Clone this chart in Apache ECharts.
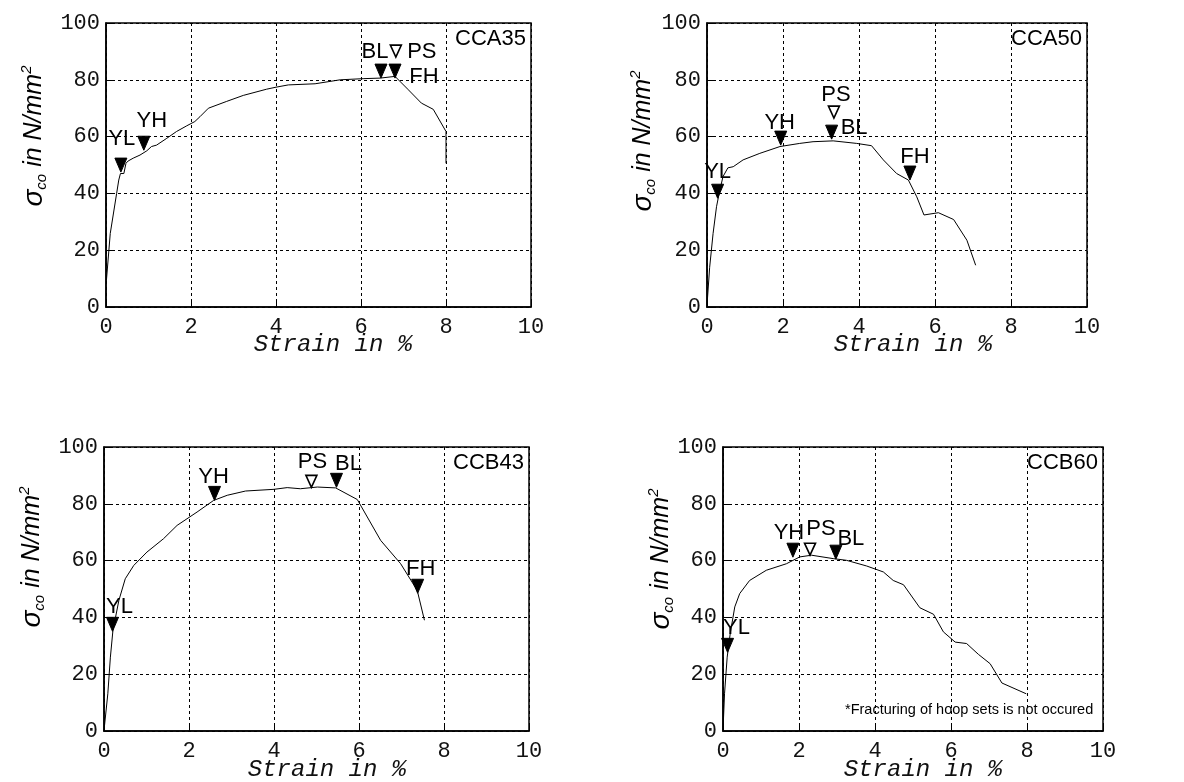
<!DOCTYPE html>
<html>
<head>
<meta charset="utf-8">
<script src="https://cdn.jsdelivr.net/npm/echarts@6/dist/echarts.min.js"></script>
<style>
html,body{margin:0;padding:0;background:#fff;}
#chart{width:1184px;height:782px;}
</style>
</head>
<body>
<div id="chart"></div>
<script>
// ---- data (strain %, stress N/mm2) ----
const panelNames = ['CCA35', 'CCA50', 'CCB43', 'CCB60'];
const xTicks = [0, 2, 4, 6, 8, 10];
const yTicks = [0, 20, 40, 60, 80, 100];

const cca35 = [[0.01,9.4],[0.1,25.9],[0.25,40],[0.3,44.7],[0.34,47],[0.42,47],[0.47,50.6],[0.52,51.4],[0.64,52.4],[0.8,53.5],[0.96,55],[1.07,56.5],[1.19,57],[1.43,59.4],[1.66,61.8],[1.9,63.8],[2.09,65.3],[2.21,67],[2.41,70],[2.84,72.4],[3.23,74.5],[3.78,76.7],[4.0,77.4],[4.29,78.2],[4.92,78.6],[5.51,80],[6.05,80.4],[6.45,80.6],[6.8,81.2],[7.1,76.7],[7.42,71.8],[7.7,69.6],[8.0,61.8],[8.0,50.6]];
const cca50 = [[0,0.6],[0.07,14],[0.16,25.9],[0.25,35.3],[0.32,40],[0.42,45.9],[0.55,49],[0.69,49.4],[0.95,51.8],[1.39,54.1],[1.92,56.5],[2.44,57.6],[2.79,58.2],[3.32,58.5],[3.94,57.6],[4.33,56.8],[4.64,51.8],[4.99,47],[5.3,44.7],[5.52,38.8],[5.71,32.4],[6.09,33.2],[6.49,30.8],[6.84,23.5],[7.07,14.7]];
const ccb43 = [[0,0.2],[0.09,13.1],[0.15,26],[0.21,35.4],[0.35,46],[0.5,53.6],[0.7,58.3],[1.01,63],[1.4,67.7],[1.72,72.4],[2.19,77.1],[2.58,81.2],[2.9,83],[3.33,84.5],[4.0,85.1],[4.31,85.7],[4.62,85.3],[5.02,85.9],[5.45,85.6],[5.96,81.5],[6.51,67.1],[6.98,58.9],[7.37,49.5],[7.54,39]];
const ccb60 = [[0,0.2],[0.04,13.1],[0.11,26],[0.19,34.3],[0.31,43.7],[0.44,48.4],[0.7,53],[1.14,56.6],[1.67,58.9],[2.02,61.3],[2.33,61.9],[2.9,60.7],[3.25,60.1],[3.78,58.1],[4.22,56],[4.48,53],[4.75,51.5],[5.18,43.4],[5.54,41.1],[5.8,34.9],[6.11,31.3],[6.41,30.8],[6.72,27],[7.03,23.7],[7.34,16.9],[7.98,13.1]];

// markers: [strain, stress, label, filled(1) / open(0)]
const m35 = [[0.35,47.5,'YL',1],[0.89,55.2,'YH',1],[6.47,80.6,'BL',1],[6.82,88.0,'PS',0],[6.8,80.6,'FH',1]];
const m50 = [[0.28,38.3,'YL',1],[1.94,57,'YH',1],[3.34,66.5,'PS',0],[3.28,59.1,'BL',1],[5.34,44.7,'FH',1]];
const m43 = [[0.2,35.1,'YL',1],[2.6,81.2,'YH',1],[4.88,85.8,'PS',0],[5.47,85.8,'BL',1],[7.38,48.5,'FH',1]];
const m60 = [[0.12,27.7,'YL',1],[1.84,61.2,'YH',1],[2.29,61.9,'PS',0],[2.97,60.5,'BL',1]];

const note60 = '*Fracturing of hoop sets is not occured';

// ---- layout / style (kept apart from data) ----
const labelOffsets = [
  [[1,-33.5],[8,-29],[-6,-26.5],[26,-5.5],[29,-1.5]],
  [[0,-26.5],[-1,-22],[2,-23],[22.5,-11.5],[5,-23.5]],
  [[7,-24.5],[-1,-23],[1,-25],[12,-23],[3,-24]],
  [[9,-24.5],[-4,-24.5],[11,-26.5],[15,-20]]
];
const grids = [
  {left:106, top:23, width:425, height:284},
  {left:707, top:23, width:380, height:284},
  {left:104, top:447, width:425, height:284},
  {left:723, top:447, width:380, height:284}
];
const xTitlePos = [[333,345],[913,345],[327,770],[923,770]];
const yTitlePos = [[34,136],[643,141],[32,557],[661,559]];

const curves = [cca35, cca50, ccb43, ccb60];
const markers = [m35, m50, m43, m60];

const chart = echarts.init(document.getElementById('chart'), null, {renderer:'canvas'});

const monoFont = 'Liberation Mono';
const sansFont = 'Liberation Sans';

const option = {
  backgroundColor: '#fff',
  animation: false,
  grid: grids.map(g => Object.assign({show:true, borderColor:'#000', borderWidth:1.5, backgroundColor:'transparent'}, g)),
  xAxis: grids.map((g,i) => ({
    gridIndex:i, type:'value', min:xTicks[0], max:xTicks[xTicks.length-1], interval:xTicks[1]-xTicks[0],
    axisLine:{show:true, lineStyle:{color:'#000', width:1.5}},
    axisTick:{show:true, inside:true, length:7, lineStyle:{color:'#000'}},
    axisLabel:{margin:9, color:'#111', fontFamily:monoFont, fontSize:22},
    splitLine:{show:true, lineStyle:{color:'#000', width:1, type:[3,3]}}
  })),
  yAxis: grids.map((g,i) => ({
    gridIndex:i, type:'value', min:yTicks[0], max:yTicks[yTicks.length-1], interval:yTicks[1]-yTicks[0],
    axisLine:{show:true, lineStyle:{color:'#000', width:1.5}},
    axisTick:{show:true, inside:true, length:7, lineStyle:{color:'#000'}},
    axisLabel:{margin:6, color:'#111', fontFamily:monoFont, fontSize:22},
    splitLine:{show:true, lineStyle:{color:'#000', width:1, type:[3,3]}}
  })),
  series: [],
  graphic: []
};

curves.forEach((c,i) => {
  option.series.push({
    type:'line', xAxisIndex:i, yAxisIndex:i, data:c, showSymbol:false, symbol:'none',
    lineStyle:{color:'#000', width:1}, z:3
  });
  const mk = markers[i];
  const offs = labelOffsets[i];
  option.series.push({
    type:'custom', xAxisIndex:i, yAxisIndex:i, z:5,
    data: mk.map(m => [m[0], m[1], m[3]]),
    encode:{x:0, y:1},
    renderItem: function(params, api){
      const p = api.coord([api.value(0), api.value(1)]);
      const k = params.dataIndex;
      const filled = mk[k][3] === 1;
      const w = filled ? 12 : 11, h = filled ? 14 : 12;
      const off = offs[k];
      return {
        type:'group',
        children:[
          {type:'polygon', shape:{points:[[p[0]-w/2,p[1]-h],[p[0]+w/2,p[1]-h],[p[0],p[1]]]},
           style:{fill: filled ? '#000' : '#fff', stroke:'#000', lineWidth: filled ? 1 : 1.6}},
          {type:'text', x:p[0]+off[0], y:p[1]+off[1],
           style:{text: mk[k][2], fill:'#000', font:'22px "Liberation Sans"', align:'center', verticalAlign:'middle'}}
        ]
      };
    }
  });

  const g = grids[i];
  option.graphic.push({
    type:'text', x:g.left+g.width-5, y:g.top+16, z:10,
    style:{text:panelNames[i], fill:'#000', font:'22px "Liberation Sans"', align:'right', verticalAlign:'middle'}
  });
  option.graphic.push({
    type:'text', x:xTitlePos[i][0], y:xTitlePos[i][1],
    style:{text:'Strain in %', fill:'#111', font:'italic 24px "Liberation Mono"', align:'center', verticalAlign:'middle'}
  });
  option.graphic.push({
    type:'text', x:yTitlePos[i][0], y:yTitlePos[i][1], rotation:Math.PI/2,
    style:{
      text:'{s|σ}{c|co}{t| in N/mm}{p|2}', align:'center', verticalAlign:'middle', fill:'#000',
      rich:{
        s:{fontFamily:sansFont, fontSize:28, fontStyle:'italic', lineHeight:30, fill:'#000'},
        c:{fontFamily:sansFont, fontSize:15, fontStyle:'italic', verticalAlign:'bottom', lineHeight:15, fill:'#000'},
        t:{fontFamily:sansFont, fontSize:25, fontStyle:'italic', lineHeight:30, fill:'#000'},
        p:{fontFamily:sansFont, fontSize:15, fontStyle:'italic', verticalAlign:'top', lineHeight:15, fill:'#000'}
      }
    }
  });
});

option.graphic.push({
  type:'text', x:845, y:710,
  style:{text:note60, fill:'#000', font:'14.5px "Liberation Sans"', align:'left', verticalAlign:'middle'}
});

chart.setOption(option);
</script>
</body>
</html>
